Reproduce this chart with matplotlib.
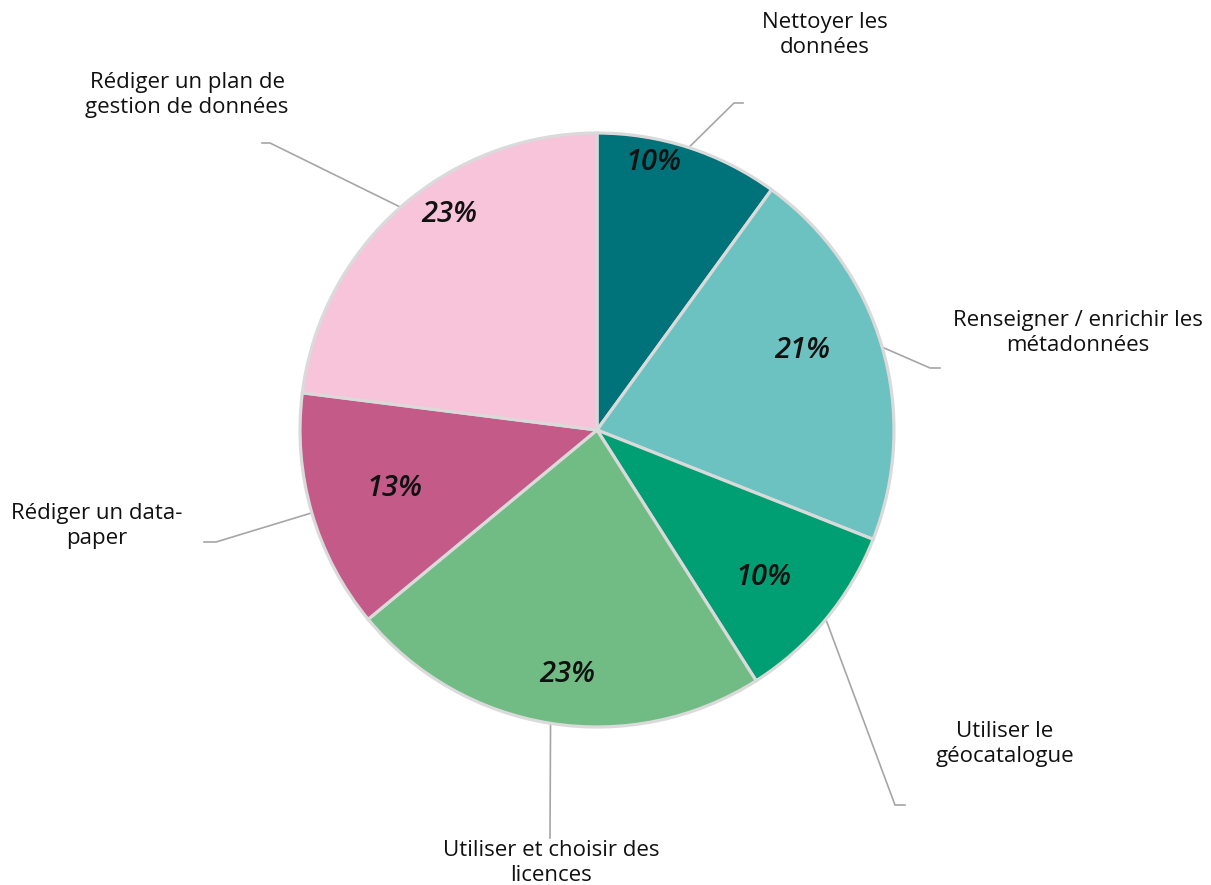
import numpy as np
import matplotlib.pyplot as plt

# Data
labels = ["Nettoyer les\ndonnées",
          "Renseigner / enrichir les\nmétadonnées",
          "Utiliser le\ngéocatalogue",
          "Utiliser et choisir des\nlicences",
          "Rédiger un data-\npaper",
          "Rédiger un plan de\ngestion de données"]
values = [10, 21, 10, 23, 13, 23]
colors = ["#00727A", "#6BC2C0", "#009F73", "#70BC84", "#C45A88", "#F7C4DA"]

# Layout (pixel space, y up)
W, H = 1211, 885
cx, cy, R = 597, H - 430, 297
pct_r = [0.92, 0.74, 0.75, 0.83, 0.71, 0.88]
pct_da = [6, 5, -2, 2, 0, -7]
elbows = [(734, 103), (930, 368), (895, 805), (550, 838), (216, 542), (270, 143)]
ends = [(743, 103), (940, 368), (905, 805), (550, 838), (204, 542), (262, 143)]
label_xy = [(825, 35), (1078, 333), (1005, 744), (551, 863), (97, 526), (187, 95)]

plt.rcParams['font.family'] = ['Open Sans', 'DejaVu Sans']

fig = plt.figure(figsize=(W / 100, H / 100), dpi=100)
ax = fig.add_axes([0, 0, 1, 1])

wedges, _ = ax.pie(values, colors=colors, startangle=90, counterclock=False,
                   center=(cx, cy), radius=R, frame=True,
                   wedgeprops=dict(edgecolor="#DADADA", linewidth=2.3))
ax.set_xlim(0, W)
ax.set_ylim(0, H)
ax.axis('off')

for i, w in enumerate(wedges):
    mid = np.deg2rad((w.theta1 + w.theta2) / 2)
    a = mid + np.deg2rad(pct_da[i])
    ax.text(cx + pct_r[i] * R * np.cos(a), cy + pct_r[i] * R * np.sin(a),
            f"{values[i]}%", ha='center', va='center', fontsize=21,
            style='italic', fontweight='semibold', color='#111111')
    # leader line
    sx, sy = cx + R * np.cos(mid), cy + R * np.sin(mid)
    ex, ey = elbows[i]
    fx, fy = ends[i]
    ax.plot([sx, ex, fx], [sy, H - ey, H - fy], color="#A6A6A6", lw=1.2,
            solid_joinstyle='miter', zorder=0)
    lx, ly = label_xy[i]
    ax.text(lx, H - ly, labels[i], ha='center', va='center', fontsize=16,
            color='#111111', linespacing=1.28)

fig.savefig("out.png", dpi=100)
